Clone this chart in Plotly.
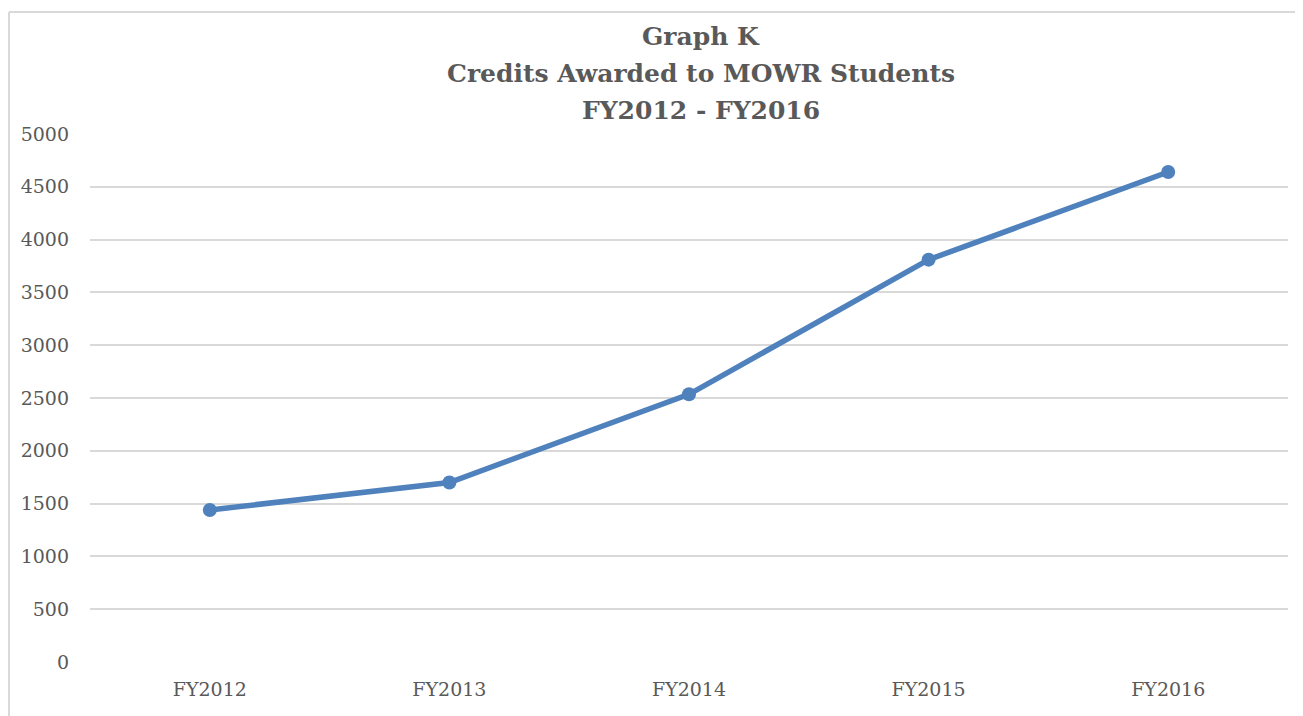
import plotly.graph_objects as go

categories = ["FY2012", "FY2013", "FY2014", "FY2015", "FY2016"]
credits = [1440, 1700, 2535, 3810, 4640]
y_ticks = [0, 500, 1000, 1500, 2000, 2500, 3000, 3500, 4000, 4500, 5000]
title_lines = ["Graph K", "Credits Awarded to MOWR Students", "FY2012 - FY2016"]

TEXT = "#595959"
GRID = "#D9D9D9"
BLUE = "#4F81BD"
FONT = "DejaVu Serif"

fig = go.Figure()
fig.add_trace(go.Scatter(
    x=categories, y=credits, mode="lines+markers",
    line=dict(color=BLUE, width=5.5),
    marker=dict(color=BLUE, size=14),
    showlegend=False, hoverinfo="x+y",
))

# page body adds an 8px offset; figure sized to fit the window
W, H = 1295, 708
L, R, T, B = 82, 15, 126, 54
pw, ph = W - L - R, H - T - B

def px_x(px):
    return (px - L) / pw

def px_y(py):
    return (H - B - py) / ph

title_y_px = [28, 65, 102]
annotations = [
    dict(text="<b>%s</b>" % t, xref="paper", yref="paper",
         x=px_x(693), y=px_y(py), xanchor="center", yanchor="middle",
         showarrow=False, font=dict(family=FONT, size=25, color=TEXT))
    for t, py in zip(title_lines, title_y_px)
]

border = dict(color=GRID, width=2)
shapes = [
    dict(type="line", xref="paper", yref="paper",
         x0=px_x(1), x1=px_x(1330), y0=px_y(4), y1=px_y(4),
         line=border, layer="below"),
    dict(type="line", xref="paper", yref="paper",
         x0=px_x(1), x1=px_x(1), y0=px_y(4), y1=px_y(740),
         line=border, layer="below"),
]

fig.update_layout(
    width=W, height=H,
    margin=dict(l=L, r=R, t=T, b=B),
    paper_bgcolor="white", plot_bgcolor="white",
    font=dict(family=FONT, color=TEXT, size=19),
    annotations=annotations,
    shapes=shapes,
    xaxis=dict(
        type="category", range=[-0.5, len(categories) - 0.5],
        showgrid=False, showline=False, zeroline=False,
        ticks="", ticklabelstandoff=14,
        tickfont=dict(family=FONT, size=19, color=TEXT),
        fixedrange=True,
    ),
    yaxis=dict(
        range=[0, 5000], tickvals=y_ticks,
        showgrid=True, gridcolor=GRID, gridwidth=2,
        zeroline=False, showline=False, ticks="",
        ticklabelstandoff=20,
        tickfont=dict(family=FONT, size=19, color=TEXT),
        fixedrange=True,
    ),
)

fig.write_html("out.html")
